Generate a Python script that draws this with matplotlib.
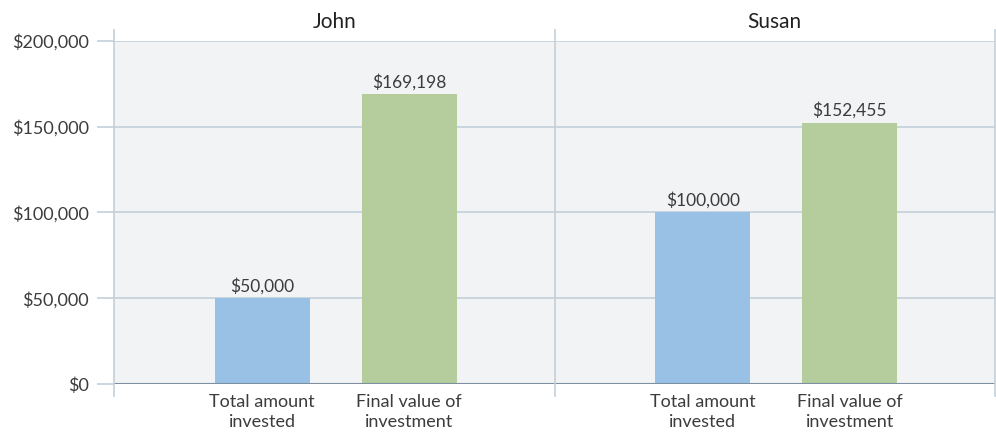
import numpy as np
import matplotlib.pyplot as plt
from matplotlib.ticker import FuncFormatter

plt.rcParams['font.family'] = ['Lato', 'DejaVu Sans']

# data
people = ['John', 'Susan']
categories = ['Total amount\ninvested', 'Final value of\ninvestment']
invested = [50000, 100000]
final_value = [169198, 152455]

bar_colors = ['#99C1E6', '#B5CD9D']
grid_col = '#C3CFD9'
base_col = '#7C90A1'
text_col = '#3C3C3C'

fig = plt.figure(figsize=(9.96, 4.32), dpi=100)
left, right = 114 / 996, 995 / 996
bottom, top = 1 - 384 / 432, 1 - 41 / 432
w = (right - left) / 2
axes = [fig.add_axes([left + i * w, bottom, w, top - bottom]) for i in range(2)]

for i, ax in enumerate(axes):
    vals = [invested[i], final_value[i]]
    xs = np.array([1, 2])
    ax.set_facecolor('#F2F3F5')
    ax.bar(xs, vals, width=0.646, color=bar_colors, zorder=3)
    for x, v in zip(xs, vals):
        ax.annotate(f'${v:,.0f}', (x, v), xytext=(0, 2.5), textcoords='offset points',
                    ha='center', va='bottom', fontsize=12.5, color=text_col, zorder=4)
    ax.set_xlim(-0.01, 2.99)
    ax.set_ylim(0, 200000)
    ax.set_yticks([0, 50000, 100000, 150000, 200000])
    for y in [50000, 100000, 150000, 200000]:
        ax.axhline(y, color=grid_col, lw=1.2, zorder=1)
    ax.axhline(0, color=base_col, lw=1.5, zorder=5)
    for s in ax.spines.values():
        s.set_visible(False)
    # vertical panel lines extending above/below the plot
    ax.plot([0, 0], [-12 / 343, 1 + 11 / 343], transform=ax.transAxes, color=grid_col,
            lw=1.2, clip_on=False, zorder=6)
    if i == 1:
        ax.plot([1, 1], [-12 / 343, 1 + 11 / 343], transform=ax.transAxes, color=grid_col,
                lw=1.2, clip_on=False, zorder=6)
    ax.set_xticks(xs)
    ax.set_xticklabels(categories, fontsize=13, color=text_col, linespacing=1.3)
    ax.tick_params(axis='x', length=0, pad=7)
    ax.set_title(people[i], fontsize=15, color='#222222', pad=9)
    if i == 0:
        ax.yaxis.set_major_formatter(FuncFormatter(lambda v, p: f'${v:,.0f}'))
        ax.tick_params(axis='y', length=12.2, width=1.2, color=grid_col, pad=6,
                       labelsize=13, labelcolor=text_col)
        ax.yaxis.get_major_ticks()[0].tick1line.set_color(base_col)
    else:
        ax.tick_params(axis='y', left=False, labelleft=False)

fig.savefig('out.png', dpi=100)
